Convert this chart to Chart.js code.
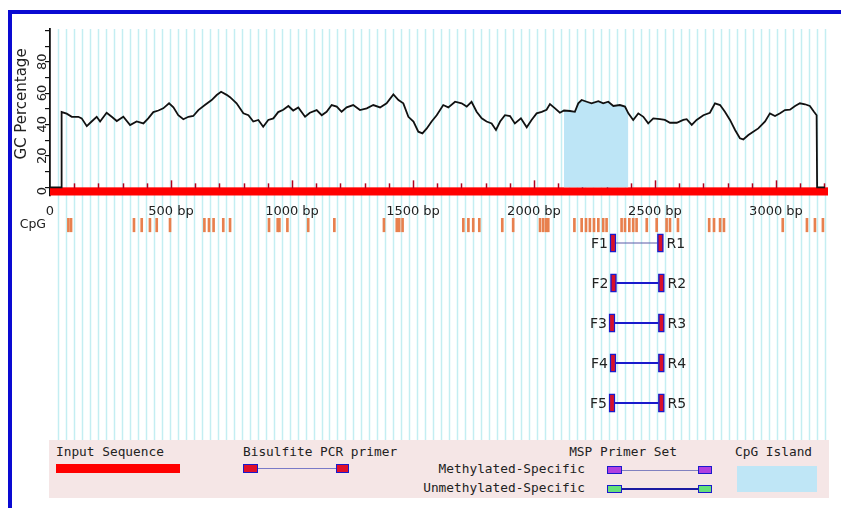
<!DOCTYPE html>
<html>
<head>
<meta charset="utf-8">
<script src="https://cdn.jsdelivr.net/npm/chart.js@4.4.0/dist/chart.umd.min.js"></script>
<style>
  html, body { margin: 0; padding: 0; background: #fff; }
  #page { position: relative; width: 841px; height: 508px; overflow: hidden; background: #fff; }
  .frame-top { position: absolute; left: 8px; top: 10px; width: 833px; height: 4px; background: #0a0ad2; }
  .frame-left { position: absolute; left: 8px; top: 10px; width: 4px; height: 498px; background: #0a0ad2; }
  #gcWrap { position: absolute; left: 0; top: 0; width: 841px; height: 218px; }
  #trackWrap { position: absolute; left: 0; top: 218px; width: 841px; height: 222px; }
  #legend { position: absolute; left: 49px; top: 440px; width: 780px; height: 58px; background: #f5e6e6;
            font: 12.8px "DejaVu Sans Mono", monospace; color: #222; }
  #legend .t { position: absolute; line-height: 14px; white-space: nowrap; }
  #legend .box { position: absolute; box-sizing: border-box; }
  .pr { border: 1.5px solid #1a1acc; background: #e0102a; }
  .mpr { border: 1.5px solid #1a1acc; background: #b040e0; }
  .upr { border: 1.5px solid #1a1acc; background: #66e07a; }
</style>
</head>
<body>
<div id="page">
  <div class="frame-top"></div>
  <div class="frame-left"></div>
  <div id="gcWrap"><canvas id="gcChart"></canvas></div>
  <div id="trackWrap"><canvas id="trackChart"></canvas></div>
  <div id="legend">
    <div class="t" style="left:7px; top:5px;">Input Sequence</div>
    <div class="box" style="left:7px; top:24px; width:124px; height:9px; background:#f00;"></div>

    <div class="t" style="left:194px; top:5px;">Bisulfite PCR primer</div>
    <div class="box pr" style="left:194px; top:24px; width:15px; height:9px;"></div>
    <div class="box" style="left:209px; top:28px; width:78px; height:1px; background:#7a7ac8;"></div>
    <div class="box pr" style="left:287px; top:24px; width:13px; height:9px;"></div>

    <div class="t" style="right:152px; top:5px;">MSP Primer Set</div>
    <div class="t" style="right:244px; top:22px;">Methylated-Specific</div>
    <div class="t" style="right:244px; top:41px;">Unmethylated-Specific</div>
    <div class="box mpr" style="left:558px; top:26px; width:15px; height:8px;"></div>
    <div class="box" style="left:573px; top:30px; width:76px; height:1px; background:#8080c0;"></div>
    <div class="box mpr" style="left:649px; top:26px; width:14px; height:8px;"></div>
    <div class="box upr" style="left:558px; top:45px; width:15px; height:8px;"></div>
    <div class="box" style="left:573px; top:48px; width:76px; height:2px; background:#1a1aa0;"></div>
    <div class="box upr" style="left:649px; top:45px; width:14px; height:8px;"></div>

    <div class="t" style="left:686px; top:5px;">CpG Island</div>
    <div class="box" style="left:688px; top:26px; width:80px; height:26px; background:#bfe6f6;"></div>
  </div>
</div>
<script>
// Sequence and CpG island (bp)
const seqLength = 3215;
const islandStart = 2124;
const islandEnd = 2390;

// GC percentage along the sequence
const gcPos = [
  0, 48, 48, 69, 90, 117, 131, 152, 172, 193,
  207, 234, 255, 276, 303, 331, 358, 386, 406, 427,
  448, 468, 492, 510, 530, 551, 572, 592, 613, 640,
  668, 689, 707, 730, 744, 771, 799, 820, 840, 861,
  881, 902, 923, 943, 964, 985, 1005, 1026, 1054, 1074,
  1102, 1123, 1143, 1164, 1185, 1205, 1226, 1253, 1281, 1309,
  1336, 1364, 1391, 1419, 1440, 1460, 1481, 1502, 1522, 1539,
  1557, 1577, 1598, 1625, 1646, 1674, 1701, 1722, 1742, 1763,
  1784, 1804, 1825, 1843, 1860, 1880, 1901, 1921, 1946, 1970,
  1990, 2011, 2032, 2052, 2066, 2087, 2107, 2124, 2149, 2169,
  2183, 2197, 2218, 2238, 2266, 2286, 2307, 2328, 2355, 2376,
  2390, 2410, 2431, 2452, 2472, 2493, 2521, 2541, 2562, 2590,
  2617, 2631, 2652, 2672, 2700, 2727, 2748, 2769, 2789, 2810,
  2831, 2851, 2865, 2886, 2906, 2927, 2955, 2975, 2996, 3017,
  3037, 3058, 3079, 3099, 3120, 3140, 3157, 3168, 3170, 3202
];
const gcVal = [
  0, 0, 48, 47, 45, 45, 44, 39, 42, 45,
  42, 47.6, 45, 42.3, 45, 39.7, 42, 40.8, 44, 48,
  49, 50.4, 53.6, 51, 46, 43.4, 45, 45.5, 49.3, 52.5,
  55.7, 58.9, 61, 59, 57.5, 53.6, 47.2, 46, 42, 43,
  38.7, 43, 44, 48, 49.5, 51.9, 49, 51, 45, 47.6,
  49.3, 46, 48.2, 52.5, 51.5, 48.2, 51, 52.5, 49.3, 50.4,
  52.5, 51, 53.6, 59.3, 55.7, 53.6, 45, 42, 35.5, 34.4,
  37.6, 42, 46, 52.5, 51, 54.6, 53.6, 51.5, 54.6, 48.2,
  44, 42, 40.8, 36.6, 42, 46, 45.5, 40.8, 44, 38.3,
  43, 47.2, 48.2, 49.5, 53.1, 50.4, 47.6, 49, 48.7, 48.2,
  53.6, 55.7, 54.6, 53.6, 55, 53.6, 54.6, 51.9, 52.5, 51.5,
  47.2, 43, 47.2, 45, 40.8, 44, 43.5, 43, 41.2, 41.2,
  43, 43.5, 39.8, 43, 46, 47.6, 53.6, 52.5, 48.2, 43,
  36.6, 31.3, 30.6, 33.4, 35.5, 37.6, 42, 47.2, 45.5, 47.2,
  49.3, 49.5, 51.9, 53.6, 53, 51.9, 48.2, 46, 0, 0
];

// Axis ticks
const yTickValues = [0, 10, 20, 30, 40, 50, 60, 70, 80, 90, 100];
const yLabelValues = [0, 20, 40, 60, 80];
const xLabelValues = [0, 500, 1000, 1500, 2000, 2500, 3000];

// CpG sites (bp)
const cpgSites = [
  76, 87, 347, 379, 413, 441, 496, 638, 657, 676,
  716, 744, 905, 941, 948, 981, 1067, 1175, 1380, 1433,
  1443, 1457, 1708, 1729, 1749, 1774, 1869, 1914, 2025, 2038,
  2050, 2059, 2167, 2197, 2215, 2231, 2248, 2266, 2286, 2300,
  2362, 2376, 2394, 2410, 2424, 2466, 2507, 2548, 2562, 2595,
  2724, 2744, 2769, 2785, 3028, 3128, 3161, 3194
];

// Bisulfite PCR primer sets (bp)
const primerNames = ['1', '2', '3', '4', '5'];
const primerRows = [1, 2, 3, 4, 5];
const fwdStart = [2314, 2316, 2310, 2314, 2310];
const revStart = [2510, 2514, 2514, 2514, 2514];
const primerLen = 25;

const cpgRow = 0.55;
const gridStepBp = 33;
const GRID_COLOR = '#c4eef2';

Chart.defaults.font.family = 'DejaVu Sans';
Chart.defaults.color = '#222';

// light cyan background rules, every gridStepBp
function drawBackgroundRules(chart, yTop, yBottom) {
  const ctx = chart.ctx;
  const xs = chart.scales.x;
  ctx.save();
  ctx.strokeStyle = GRID_COLOR;
  ctx.lineWidth = 1.5;
  for (let bp = gridStepBp; bp <= seqLength; bp += gridStepBp) {
    const x = Math.round(xs.getPixelForValue(bp)) + 0.5;
    ctx.beginPath();
    ctx.moveTo(x, yTop);
    ctx.lineTo(x, yBottom);
    ctx.stroke();
  }
  ctx.restore();
}

const gcDecor = {
  id: 'gcDecor',
  beforeDraw(chart) {
    drawBackgroundRules(chart, chart.chartArea.top, chart.height);
  },
  beforeDatasetsDraw(chart) {
    const ctx = chart.ctx;
    const xs = chart.scales.x, ys = chart.scales.y;
    const x0 = xs.getPixelForValue(0), x1 = xs.getPixelForValue(seqLength);
    const y0 = ys.getPixelForValue(0), y1 = ys.getPixelForValue(-5.2);
    ctx.save();
    // input sequence bar
    ctx.fillStyle = '#f00';
    ctx.fillRect(x0, y0, x1 - x0, y1 - y0);
    // ruler ticks every 100 bp
    ctx.strokeStyle = '#b3001c';
    ctx.lineWidth = 1.5;
    for (let bp = 100; bp <= seqLength; bp += 100) {
      const x = Math.round(xs.getPixelForValue(bp)) + 0.5;
      const len = bp % 500 === 0 ? 7 : 4;
      ctx.beginPath();
      ctx.moveTo(x, y0 + 1);
      ctx.lineTo(x, y0 - len);
      ctx.stroke();
    }
    ctx.restore();
  },
  afterDraw(chart) {
    const ctx = chart.ctx;
    const ys = chart.scales.y;
    ctx.save();
    ctx.fillStyle = '#222';
    ctx.font = '13px "DejaVu Sans"';
    ctx.textAlign = 'left';
    ctx.textBaseline = 'middle';
    yLabelValues.forEach(v => {
      const y = ys.getPixelForValue(v);
      ctx.save();
      ctx.translate(43, y + 8);
      ctx.rotate(-Math.PI / 2);
      ctx.fillText(String(v), 0, 0);
      ctx.restore();
    });
    ctx.font = '15px "DejaVu Sans"';
    ctx.textAlign = 'center';
    ctx.translate(22, 104);
    ctx.rotate(-Math.PI / 2);
    ctx.fillText('GC Percentage', 0, 0);
    ctx.restore();
  }
};

const gcPoints = gcPos.map((p, i) => ({ x: p, y: gcVal[i] }));
const islandPoints = gcPoints.filter(p => p.x >= islandStart && p.x <= islandEnd && p.y > 0);

new Chart(document.getElementById('gcChart'), {
  type: 'line',
  data: {
    datasets: [
      {
        label: 'GC Percentage',
        data: gcPoints,
        borderColor: '#111',
        borderWidth: 1.8,
        pointRadius: 0,
        tension: 0,
        fill: false
      },
      {
        label: 'CpG Island',
        data: islandPoints,
        borderWidth: 0,
        pointRadius: 0,
        backgroundColor: '#bde5f6',
        fill: 'origin'
      }
    ]
  },
  options: {
    responsive: true,
    maintainAspectRatio: false,
    animation: false,
    layout: { padding: { left: 0, right: 13, top: 29, bottom: 0 } },
    plugins: { legend: { display: false }, tooltip: { enabled: false } },
    scales: {
      x: {
        type: 'linear',
        min: 0,
        max: seqLength,
        afterBuildTicks: s => { s.ticks = xLabelValues.map(v => ({ value: v })); },
        afterFit: s => { s.height = 22.5; },
        grid: { display: false, drawTicks: false },
        border: { display: false },
        ticks: {
          padding: 8,
          maxRotation: 0,
          autoSkip: false,
          color: '#222',
          font: { size: 13 },
          callback: v => (v === 0 ? '0' : v + ' bp')
        }
      },
      y: {
        min: -5.2,
        max: 101,
        afterBuildTicks: s => { s.ticks = yTickValues.map(v => ({ value: v })); },
        afterFit: s => { s.width = 50; },
        ticks: { display: false },
        grid: { drawOnChartArea: false, drawTicks: true, tickLength: 5, color: '#111', lineWidth: 1.2 },
        border: { display: true, color: '#111', width: 1.8 }
      }
    }
  },
  plugins: [gcDecor]
});

// Track chart: CpG sites and primer sets
const trackDecor = {
  id: 'trackDecor',
  beforeDraw(chart) {
    drawBackgroundRules(chart, 0, chart.chartArea.bottom);
  },
  afterDraw(chart) {
    const ctx = chart.ctx;
    const xs = chart.scales.x, ys = chart.scales.y;
    ctx.save();
    ctx.fillStyle = '#222';
    ctx.textBaseline = 'middle';
    ctx.font = '12.5px "DejaVu Sans"';
    ctx.textAlign = 'right';
    ctx.fillText('CpG', 46, ys.getPixelForValue(cpgRow));
    ctx.font = '14px "DejaVu Sans"';
    primerRows.forEach((row, i) => {
      const y = ys.getPixelForValue(row) + 1;
      ctx.textAlign = 'right';
      ctx.fillText('F' + primerNames[i], xs.getPixelForValue(fwdStart[i]) - 2, y);
      ctx.textAlign = 'left';
      ctx.fillText('R' + primerNames[i], xs.getPixelForValue(revStart[i] + primerLen) + 3, y);
    });
    ctx.restore();
  }
};

const trackDatasets = [];
primerRows.forEach((row, i) => {
  trackDatasets.push({
    type: 'bar',
    label: 'Primer ' + primerNames[i],
    data: [
      { x: fwdStart[i] + primerLen / 2, y: [row - 0.23, row + 0.23] },
      { x: revStart[i] + primerLen / 2, y: [row - 0.23, row + 0.23] }
    ],
    backgroundColor: '#d8102a',
    borderColor: '#1a1acc',
    borderWidth: 1.5,
    borderSkipped: false,
    barThickness: 6,
    grouped: false
  });
  trackDatasets.push({
    type: 'line',
    label: 'Amplicon ' + primerNames[i],
    data: [
      { x: fwdStart[i] + primerLen, y: row },
      { x: revStart[i], y: row }
    ],
    borderColor: i === 0 ? '#5a5aa8' : '#1a1acc',
    borderWidth: i === 0 ? 1 : 2,
    pointRadius: 0
  });
});
trackDatasets.push({
  type: 'bar',
  label: 'CpG',
  data: cpgSites.map(p => ({ x: p, y: [cpgRow - 0.17, cpgRow + 0.17] })),
  backgroundColor: '#e8804e',
  borderWidth: 0,
  barThickness: 2,
  grouped: false
});

new Chart(document.getElementById('trackChart'), {
  type: 'bar',
  data: { datasets: trackDatasets },
  options: {
    responsive: true,
    maintainAspectRatio: false,
    animation: false,
    layout: { padding: { left: 50, right: 13, top: 0, bottom: 0 } },
    plugins: { legend: { display: false }, tooltip: { enabled: false } },
    scales: {
      x: { type: 'linear', min: 0, max: seqLength, offset: false, display: false },
      y: { type: 'linear', min: 0.375, max: 5.925, reverse: true, display: false }
    }
  },
  plugins: [trackDecor]
});
</script>
</body>
</html>
